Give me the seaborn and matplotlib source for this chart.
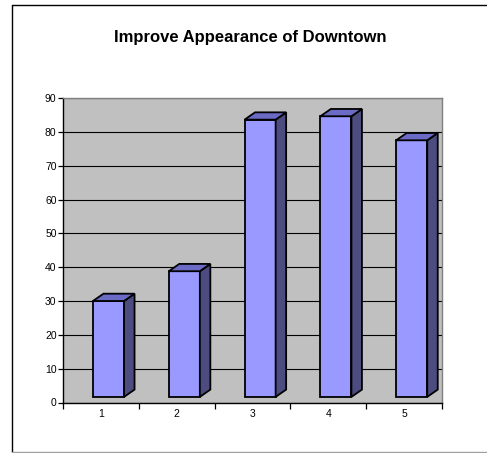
import numpy as np
import pandas as pd
import matplotlib
matplotlib.use("Agg")
import matplotlib.pyplot as plt
import seaborn as sns
from matplotlib.patches import Polygon
from matplotlib.lines import Line2D
from matplotlib.transforms import IdentityTransform

# ---- data ----
categories = ["1", "2", "3", "4", "5"]
values = [30, 38.8, 83.6, 84.6, 77.5]
y_ticks = [0, 10, 20, 30, 40, 50, 60, 70, 80, 90]
title = "Improve Appearance of Downtown"

sns.set_style("white")
plt.rcParams["font.family"] = ["Liberation Sans", "DejaVu Sans"]

W, H = 487, 453
fig = plt.figure(figsize=(W / 100, H / 100), dpi=100)
fig.patch.set_facecolor("white")
ax = fig.add_axes([63 / W, (H - 402.5) / H, (442 - 63) / W, (402.5 - 98) / H])

df = pd.DataFrame({"cat": categories, "val": values})
sns.barplot(data=df, x="cat", y="val", ax=ax, width=0.41, color="#9999FF",
            saturation=1, edgecolor="black", linewidth=1.3, zorder=3)

ax.set_facecolor("#C0C0C0")
ax.set_xlim(-0.5, 4.5)
ax.set_ylim(0, 90)
ax.set_yticks(y_ticks)
ax.set_yticklabels([str(t) for t in y_ticks])
ax.set_xticks(range(len(categories)))
ax.set_xticklabels(categories)
ax.set_xticks(np.arange(-0.5, len(categories), 1), minor=True)
ax.set_xlabel("")
ax.set_ylabel("")
ax.yaxis.grid(True, color="black", linewidth=0.8)
ax.xaxis.grid(False)
ax.set_axisbelow(True)

ax.tick_params(axis="x", which="major", length=0, pad=5, labelsize=7.5, colors="black")
ax.tick_params(axis="x", which="minor", length=4, width=0.9, color="black", direction="out", bottom=True)
ax.tick_params(axis="y", which="major", length=3.8, width=0.9, color="black", direction="out",
               left=True, pad=0.8, labelsize=7.5, labelcolor="black")

for s in ["left", "bottom"]:
    ax.spines[s].set_color("black")
    ax.spines[s].set_linewidth(1.0)
for s in ["top", "right"]:
    ax.spines[s].set_color("#808080")
    ax.spines[s].set_linewidth(1.0)
    ax.spines[s].set_visible(True)

# ---- 3D-look bars ----
def to_px(x, y):
    return ax.transData.transform((x, y))

ppu_y = to_px(0, 1)[1] - to_px(0, 0)[1]
ppu_x = to_px(1, 0)[0] - to_px(0, 0)[0]
lift = 5.6 / ppu_y
shift = 7.6 / ppu_x
DX, DY = 10.5, 7.3

for p in list(ax.patches):
    x0 = p.get_x() + shift
    top = p.get_y() + p.get_height()
    p.set_x(x0)
    p.set_y(lift)
    p.set_height(top - lift)
    xl, yb = to_px(x0, lift)
    xr, yt = to_px(x0 + p.get_width(), top)
    side = Polygon([(xr, yb), (xr, yt), (xr + DX, yt + DY), (xr + DX, yb + DY)],
                   closed=True, transform=IdentityTransform(), facecolor="#4C4C80",
                   edgecolor="black", linewidth=1.3, zorder=5)
    topf = Polygon([(xl, yt), (xr, yt), (xr + DX, yt + DY), (xl + DX, yt + DY)],
                   closed=True, transform=IdentityTransform(), facecolor="#6B6BC6",
                   edgecolor="black", linewidth=1.3, zorder=5)
    fig.add_artist(side)
    fig.add_artist(topf)

# ---- title ----
fig.text(250.5 / W, 1 - 37.5 / H, title, ha="center", va="center",
         fontsize=12, fontweight="bold", color="black")

# ---- outer frame ----
fig.add_artist(Line2D([11.5, 487], [H - 4.5, H - 4.5], transform=IdentityTransform(),
                      color="black", linewidth=1.0))
fig.add_artist(Line2D([11.5, 11.5], [H - 4.5, 1.5], transform=IdentityTransform(),
                      color="black", linewidth=1.0))
fig.add_artist(Line2D([11.5, 487], [1.5, 1.5], transform=IdentityTransform(),
                      color="#A0A0A0", linewidth=1.0))

fig.savefig("out.png", dpi=100)
